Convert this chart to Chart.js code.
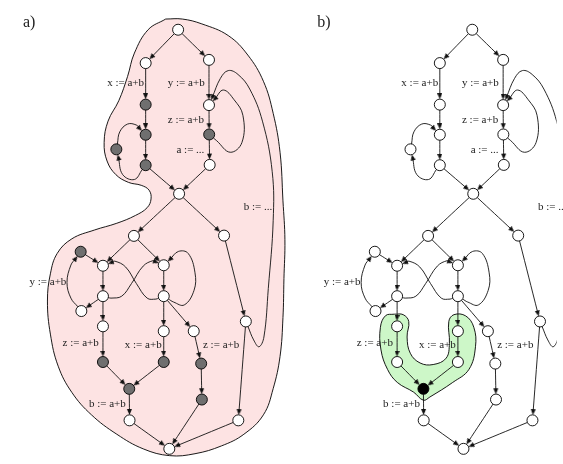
<!DOCTYPE html>
<html><head><meta charset="utf-8">
<script src="https://cdn.jsdelivr.net/npm/chart.js@4.4.1/dist/chart.umd.min.js"></script>
<style>html,body{margin:0;padding:0;background:#fff}#wrap{width:563px;height:464px;position:relative}</style>
</head><body><div id="wrap"><canvas id="c"></canvas></div>
<script>
// ---- data (panel-local coordinates, y downward) ----
const panelNames = ['a)', 'b)'];
const panelOffsetX = [0, 301];
const nodeX = [175.7,142.5,207.3,142.5,207.3,142.5,207.5,112.5,142.5,208,176.7,130.5,222.7,76,98.8,161,98.8,161,76.7,98.8,161,191.7,245,98.8,161,199.3,125.7,200,126,237.3,166.7];
const nodeY = [24,58.3,55,101,101.5,132,131.7,147,163.3,163,192.7,236,235.7,252.3,266.7,266.2,298,298,313.3,329,334,334,324,365.7,365.7,367.3,393.3,404.3,425.7,425.7,455];
// 0 = white, 1 = grey, 2 = black
const nodeShadeA = [0,0,0,1,0,1,1,1,1,0, 0,0,0,1,0,0,0,0,0,0, 0,0,0,1,1,1,1,1,0,0, 0];
const nodeShadeB = [0,0,0,0,0,0,0,0,0,0, 0,0,0,0,0,0,0,0,0,0, 0,0,0,0,0,0,2,0,0,0, 0];
const edgeFrom = [0,0,1,2,3,5,4,6,8,7,6,8,9,10,10,22,11,11,13,14,15,16,18,16,17,17,16,17,17,19,20,21,23,24,25,26,28,27,29,12,22];
const edgeTo   = [1,2,3,4,5,8,6,9,7,5,4,10,10,11,12,4,14,15,14,16,17,18,13,15,14,15,19,20,21,23,24,25,26,26,27,28,30,30,30,22,29];
const edgeVia = [
  [],[],[],[],[],[],[],[],
  [[131,178],[119,173]],
  [[116,129],[124,121],[133,122]],
  [[215,138],[229,150],[241,140],[242,112],[233,96],[222,86]],
  [],[],[],[],
  [[253,343],[258.5,350],[263.5,340],[268,290],[273,220],[272,170],[262,118],[249,85],[237,70],[227,66],[219,74]],
  [],[],[],[],[],[],
  [[66,300],[62,284],[66,266]],
  [[107,300],[118,298],[128,285],[140,267],[150,261.5]],
  [[153,301],[144,300],[133,285],[122,268],[111,262]],
  [[171,304],[182,307],[192,292],[193,274],[186,254],[176,252]],
  [],[],[],[],[],[],[],[],[],[],[],[],[],[],[]
];
const labelText = ['x := a+b','y := a+b','z := a+b','a := ...','b := ...','y := a+b','z := a+b','x := a+b','z := a+b','b := a+b'];
const labelX = [122,184,183.7,188.3,257.5,42.5,76,140,219.7,103.3];
const labelY = [79,79,116.7,147.7,206.7,283.3,346.7,348.3,348.3,409.3];
const pinkRegion = [[163,13],[180,13],[200,18],[227,30],[247,50],[263,77],[273,110],[280,150],[283,200],[285,240],[284,280],[283,320],[280,360],[273,393],[263,420],[243,440],[220,452],[193,460],[167,462],[140,455],[113,440],[87,420],[67,397],[53,370],[45,337],[42,303],[45,275],[52,254],[67,239],[90,230],[113,223],[132,215],[144,207],[148,198],[146,189],[138,184],[125,181],[112,173],[103,159],[100,140],[104,118],[115,97],[124,72],[131,48],[145,24],[163,13]];
const greenRegion = [[96,316.5],[105,317],[110.7,324],[109,340],[112.3,356.7],[122.3,366.7],[135.7,368.3],[149,361.7],[152.3,346.7],[151.7,324],[157,317],[169,318.3],[177.3,330],[179,350],[172.3,373.3],[155.7,386.7],[132.3,401.7],[125.7,405],[115.7,396.7],[99,386.7],[89,373.3],[82.3,353.3],[81.7,330],[87,318],[96,316.5]];

// ---- drawing ----
const R = 5.5, ARROW_LEN = 6;
const shadeColor = ['#ffffff','#6f6f6f','#000000'];
const arrowImg = (() => { const c = document.createElement('canvas'); c.width = 5; c.height = ARROW_LEN;
  const g = c.getContext('2d'); g.fillStyle = '#111'; g.beginPath(); g.moveTo(2.5,0); g.lineTo(5,ARROW_LEN); g.lineTo(0,ARROW_LEN); g.closePath(); g.fill(); return c; })();
function unit(dx, dy) { const l = Math.hypot(dx, dy) || 1; return [dx/l, dy/l]; }

const datasets = [];
function addRegion(pts, ox, fillColor) {
  datasets.push({ data: pts.map(p => ({x: p[0]+ox, y: p[1]})), regionFill: fillColor, borderColor: '#000', borderWidth: 0.9,
    tension: 0.4, pointRadius: 0, fill: false, order: 10 });
}
addRegion(pinkRegion, panelOffsetX[0], '#fde3e3');
addRegion(greenRegion, panelOffsetX[1], '#cdf7c8');

panelOffsetX.forEach((ox, p) => {
  const arrowPts = [], arrowRot = [];
  for (let i = 0; i < edgeFrom.length; i++) {
    const a = edgeFrom[i], b = edgeTo[i], via = edgeVia[i];
    const ax = nodeX[a], ay = nodeY[a], bx = nodeX[b], by = nodeY[b];
    const first = via.length ? via[0] : [bx, by];
    const last = via.length ? via[via.length-1] : [ax, ay];
    const [sx, sy] = unit(first[0]-ax, first[1]-ay);
    const [ex, ey] = unit(bx-last[0], by-last[1]);
    const tipX = bx - ex*R, tipY = by - ey*R;
    const pts = [{x: ax + sx*R + ox, y: ay + sy*R}];
    via.forEach(v => pts.push({x: v[0]+ox, y: v[1]}));
    pts.push({x: tipX - ex*3 + ox, y: tipY - ey*3});
    datasets.push({ data: pts, borderColor: '#111', borderWidth: 0.9, tension: 0.4, pointRadius: 0, fill: false, order: 5 });
    arrowPts.push({x: tipX - ex*ARROW_LEN/2 + ox, y: tipY - ey*ARROW_LEN/2});
    arrowRot.push(Math.atan2(ey, ex)*180/Math.PI + 90);
  }
  datasets.push({ data: arrowPts, showLine: false, pointStyle: arrowImg, pointRotation: arrowRot, pointRadius: 3, order: 3 });
  const shades = p === 0 ? nodeShadeA : nodeShadeB;
  datasets.push({ data: nodeX.map((x, i) => ({x: x+ox, y: nodeY[i]})), showLine: false, pointRadius: R,
    pointBackgroundColor: shades.map(s => shadeColor[s]), pointBorderColor: '#000', pointBorderWidth: 0.9, order: 1 });
});

const regionPlugin = { id: 'regionFill', beforeDatasetsDraw(chart) {
  const ctx = chart.ctx;
  chart.data.datasets.forEach((ds, i) => {
    if (!ds.regionFill) return;
    const line = chart.getDatasetMeta(i).dataset;
    if (!line) return;
    line.updateControlPoints(chart.chartArea, 'x');
    ctx.save(); ctx.beginPath(); line.path(ctx); ctx.closePath(); ctx.fillStyle = ds.regionFill; ctx.fill(); ctx.restore();
  });
}};
const labelPlugin = { id: 'labels', afterDatasetsDraw(chart) {
  const ctx = chart.ctx, xs = chart.scales.x, ys = chart.scales.y;
  ctx.save(); ctx.fillStyle = '#222'; ctx.textBaseline = 'middle';
  panelOffsetX.forEach((ox, p) => {
    ctx.font = "11px 'Liberation Serif'"; ctx.textAlign = 'center';
    labelText.forEach((t, i) => ctx.fillText(t, xs.getPixelForValue(labelX[i]+ox), ys.getPixelForValue(labelY[i])));
    ctx.font = "16px 'Liberation Serif'"; ctx.textAlign = 'left';
    ctx.fillText(panelNames[p], xs.getPixelForValue(17+ox), ys.getPixelForValue(16.5));
  });
  ctx.restore();
}};

new Chart(document.getElementById('c'), {
  type: 'line',
  data: { datasets },
  options: {
    responsive: true, maintainAspectRatio: false, animation: false, devicePixelRatio: 1, events: [],
    layout: { padding: 0 },
    scales: { x: { type: 'linear', min: 0, max: 563, display: false }, y: { type: 'linear', min: 0, max: 464, reverse: true, display: false } },
    plugins: { legend: { display: false }, tooltip: { enabled: false } }
  },
  plugins: [regionPlugin, labelPlugin]
});
</script></body></html>
